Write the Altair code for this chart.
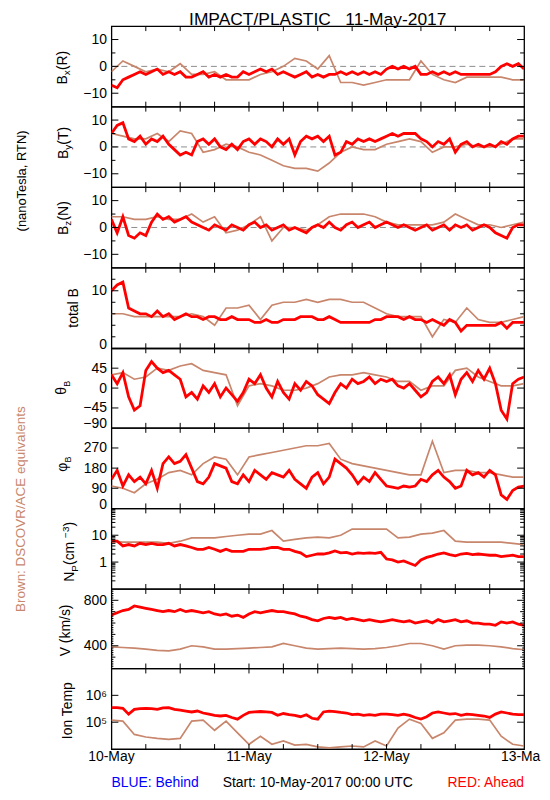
import json
import altair as alt
import pandas as pd

# ---------------- data ----------------
HOURS = list(range(73))            # hourly samples, hours after 10-May-2017 00:00 UTC
HOURS2 = list(range(0, 73, 2))     # two-hourly samples

BX_RED = [-7, -8, -5, -4, -3, -2, -3, -2, -1, -3,
          -2, -3, -2, -4, -4, -3, -2, -4, -3, -4,
          -3, -4, -4, -2, -3, -2, -1, -2, -1, -3,
          -2, -3, -4, -3, -2, -4, -3, -4, -3, -3,
          -2, -3, -2, -3, -2, -3, -2, -3, -1, 0,
          -1, 0, -1, 0, -3, -3, -2, -3, -2, -3,
          -2, -3, -3, -3, -3, -3, -3, -2, 0, 1,
          0, 1, -1]
BX_BROWN = [-2, 2, 0, -2, -1, -2, 1, -3, -3, -2,
            -5, -5, -5, -3, -2, 0, 3, 2, -1, 4,
            -6, -6, -7, -6, -5, -5, -5, 2, -3, -5,
            -6, -4, -4, -4, -4, -5, -5]

BY_RED = [5, 8, 9, 3, 2, 4, 1, 3, 2, 4,
          1, -1, -3, -2, -3, 2, 3, 1, 3, 0,
          -1, 1, -1, 2, 3, 1, 3, 2, 0, 3,
          1, 3, -3, 2, 4, 3, 4, 2, 4, -3,
          -2, 2, 1, 3, 2, 3, 2, 3, 4, 5,
          4, 5, 5, 5, 3, 2, 0, 2, 1, 3,
          -2, 1, 2, 0, 1, 0, 1, 0, 2, 1,
          3, 4, 4]
BY_BROWN = [5, 4, 3, 3, 5, 2, 6, 5, -2, -1,
            1, 0, -2, -3, -5, -7, -8, -8, -9, -6,
            -2, 0, -1, -1, 1, 2, 3, 2, -2, 0,
            0, 1, 0, 0, 1, 3, 3]

BZ_RED = [3, -2, 4, -3, -4, -2, -3, 2, 5, 3,
          4, 2, 3, 4, 2, 1, 0, -1, 1, 0,
          -1, 1, 0, -1, 1, 2, 0, 1, -1, 0,
          1, -1, 0, -1, -2, 0, 1, 0, 2, 0,
          -1, 1, 2, 0, 1, 2, 0, 1, 2, 1,
          0, 1, 0, -1, 0, 1, -1, 0, 1, -1,
          1, 0, 1, -1, 0, 1, 0, -2, -3, -4,
          0, 1, 1]
BZ_BROWN = [4, 4, 3, 3, 4, 3, 3, 5, 2, 4,
            -2, -1, 1, 4, -5, 0, 0, -1, 1, 4,
            5, 5, 5, 4, 2, 1, 1, 1, 1, 2,
            5, 3, 1, 1, 0, 1, 2]

BT_RED = [10, 11, 11.5, 7, 6.5, 6, 6, 5.5, 6.5, 5.5,
          6, 5, 5.5, 6, 5.5, 5.5, 5, 5.5, 5.5, 5,
          5, 5.5, 5, 5, 5, 4.5, 4.5, 5, 4.5, 4.5,
          5, 5, 5, 5.5, 5.5, 5.5, 5, 5, 5.5, 5,
          4.5, 4.5, 4.5, 4.5, 4.5, 4.5, 5, 5, 5.5, 5.5,
          5.5, 5, 5.5, 5, 5, 4.5, 5, 4.5, 4, 5,
          4.5, 3, 4, 4, 4, 4, 4, 4, 4.5, 3.5,
          4.5, 4.5, 4.5]
BT_BROWN = [6, 6, 5.5, 5.5, 5.5, 5.5, 5.5, 6, 5.5, 4,
            7, 7, 7.5, 5, 7.5, 8, 8, 8.5, 8, 8.5,
            8.5, 8, 8, 7, 6, 5.5, 5.5, 5.5, 2, 5,
            4.5, 7, 5, 4.5, 4.5, 5, 5.5]

TH_RED = [30, 10, 35, -20, -50, -40, 40, 60, 45, 35,
          40, 30, 20, -20, -10, -25, 5, -10, 10, -20,
          0, -15, -30, -10, 20, 10, 30, 0, -20, 15,
          -10, -25, 10, -5, 15, 5, -15, -25, -35, -10,
          10, 0, 20, 10, 15, 25, 10, 20, 15, 20,
          5, 0, 10, -5, -20, -10, 15, 25, 10, 30,
          -15, 20, 35, 15, 40, 20, 45, 10, -50, -70,
          10, 20, 25]
TH_BROWN = [30, 35, 20, 25, 45, 40, 50, 55, 40, 35,
            30, -40, 5, 10, 5, -5, -5, 0, 10, 25,
            30, 30, 35, 30, 25, 15, 15, -5, 5, 5,
            40, 45, 25, 15, 5, 5, 10]

PH_RED = [130, 170, 100, 150, 120, 140, 110, 170, 90, 200,
          230, 200, 210, 240, 180, 120, 110, 140, 200, 190,
          180, 120, 110, 150, 120, 170, 150, 130, 160, 150,
          140, 170, 130, 110, 90, 140, 160, 110, 140, 220,
          200, 180, 150, 110, 140, 120, 160, 130, 100, 95,
          90, 100, 95, 100, 130, 120, 150, 170, 140, 120,
          90, 100, 170, 150, 160, 140, 170, 150, 60, 40,
          80, 95, 100]
PH_BROWN = [100, 90, 70, 110, 130, 160, 170, 150, 200, 230,
            220, 150, 230, 240, 250, 260, 270, 280, 280, 290,
            220, 200, 190, 180, 170, 160, 150, 150, 300, 160,
            170, 170, 160, 160, 150, 140, 140]

NP_RED = [6, 6, 4, 4.5, 4, 5, 4.5, 5, 4.5, 4.5,
          5, 4, 4.5, 4, 3.5, 3, 3, 3.5, 3, 2.5,
          3, 2.5, 2.5, 2.5, 3, 3, 3, 3.2, 3.5, 3.5,
          3, 3, 2.5, 2.2, 1.6, 1.8, 2, 2, 2.2, 2.6,
          2.2, 2.3, 2, 2.2, 2.1, 2.2, 2.1, 2.3, 1.3, 1.2,
          1.0, 1.1, 0.9, 0.75, 1.2, 1.5, 1.7, 2, 2.2, 1.9,
          1.7, 2, 2.1, 1.9, 2, 1.9, 1.8, 1.8, 1.6, 1.7,
          1.8, 1.6, 1.6]
NP_BROWN = [6, 5.5, 5.5, 5.5, 5.5, 5, 6, 8, 8, 8,
            9, 10, 11, 11, 15, 6, 7, 8, 8.5, 8,
            10, 17, 17, 17, 17, 8, 8.5, 11, 12, 15,
            6, 5.5, 5.5, 5.5, 5.5, 5, 4.5]

V_RED = [670, 690, 710, 720, 750, 740, 730, 720, 710, 700,
         710, 700, 720, 700, 710, 700, 690, 700, 680, 670,
         680, 660, 670, 650, 680, 700, 690, 700, 710, 700,
         700, 690, 680, 660, 650, 630, 620, 640, 650, 640,
         650, 630, 640, 630, 620, 630, 620, 610, 620, 630,
         620, 610, 620, 600, 610, 620, 600, 630, 610, 620,
         630, 610, 620, 600, 600, 590, 590, 580, 610, 600,
         610, 590, 580]
V_BROWN = [390, 385, 380, 370, 360, 355, 370, 400, 390, 370,
           370, 375, 380, 385, 390, 420, 400, 380, 370, 375,
           380, 375, 370, 375, 385, 400, 420, 420, 400, 370,
           400, 405, 405, 400, 390, 375, 365]

T_RED = [3.5e5, 3.5e5, 3.3e5, 2e5, 3e5, 3.2e5, 3.3e5, 3.2e5, 3e5, 3.4e5,
         3.5e5, 3e5, 2.8e5, 2.6e5, 2.4e5, 2.6e5, 2.2e5, 2e5, 1.8e5, 1.7e5,
         1.8e5, 1.5e5, 1.3e5, 1.8e5, 2.3e5, 2.4e5, 2.5e5, 2.4e5, 2.3e5, 1.8e5,
         2.1e5, 1.9e5, 1.8e5, 1.6e5, 1.9e5, 1.4e5, 1.3e5, 2.4e5, 2.6e5, 2.5e5,
         2.3e5, 2.2e5, 1.9e5, 2e5, 1.8e5, 1.9e5, 1.8e5, 2e5, 2e5, 1.9e5,
         1.8e5, 2e5, 1.8e5, 1.5e5, 1.3e5, 1.6e5, 2.2e5, 2.4e5, 2.2e5, 2e5,
         2.1e5, 1.8e5, 2e5, 1.9e5, 1.8e5, 1.7e5, 1.5e5, 2e5, 2.4e5, 2.2e5,
         2e5, 1.9e5, 1.9e5]
T_BROWN = [1.2e5, 1.1e5, 3.5e4, 2.8e4, 2.5e4, 2.3e4, 2.5e4, 1.1e5, 1.2e5, 5e4,
           1.1e5, 4e4, 1.5e4, 3e4, 1.5e4, 2e4, 1.4e4, 1.5e4, 1.2e4, 1.1e4,
           1.2e4, 1.3e4, 1.2e4, 2e4, 1.3e4, 6e4, 1.3e5, 9e4, 2.5e4, 4e4,
           1.2e5, 1.3e5, 1.3e5, 1.2e5, 3e4, 1.5e4, 1.3e4]

DAY_TICKS = [0, 24, 48, 72]
DAY_LABELS = ["10-May", "11-May", "12-May", "13-May"]
HOUR_TICKS = list(range(6, 72, 6))
TEMP_LABELS = ["10\u2075", "10\u2076"]

TITLE = "IMPACT/PLASTIC\u00a0\u00a0\u00a011-May-2017"
START_TEXT = "Start: 10-May-2017 00:00 UTC"

# ---------------- style ----------------
RED = "#ff0000"
BROWN = "#c8866c"
BLUE = "#0000ff"
FONT = "Liberation Sans"
W = 415

xscale = alt.Scale(domain=[0, 72], nice=False, zero=False)


def text_layer(text, x, y, size=14, color="black", align="left",
               baseline="middle", angle=270):
    return alt.Chart(pd.DataFrame({"t": [text]})).mark_text(
        font=FONT, fontSize=size, color=color, align=align,
        baseline=baseline, angle=angle
    ).encode(text="t:N", x=alt.value(x), y=alt.value(y))


def rot_title(pieces, x0, ybot):
    out, cur = [], ybot
    for txt, size, dx, adv in pieces:
        out.append(text_layer(txt, x0 + dx, cur, size=size))
        cur -= adv
    return out


def panel(height, red, brown, ydomain, ytype, major, minor, labels,
          title_layers, label_expr=None, bottom_label=None, zero=False,
          bottom=False, micro=None, extra=()):
    yscale = alt.Scale(domain=ydomain, type=ytype, nice=False, zero=False)
    yargs = dict(values=labels, ticks=False, tickSize=0, domain=False,
                 grid=False, labelFont=FONT, labelFontSize=14,
                 labelPadding=5, labelColor="black", title=None)
    if label_expr:
        yargs["labelExpr"] = label_expr
    if bottom_label is not None:
        yargs["labelOffset"] = {"condition": {"test": f"datum.value == {bottom_label}",
                                              "value": -4}, "value": 0}
    yaxis = alt.Axis(**yargs)

    def X():
        return alt.X("h:Q", scale=xscale, axis=None)

    def Y():
        return alt.Y("v:Q", scale=yscale, axis=yaxis)

    layers = []
    if zero:
        layers.append(alt.Chart(pd.DataFrame({"v": [0]})).mark_rule(
            color="#8c8c8c", strokeDash=[6, 4], strokeWidth=1
        ).encode(y=Y(), x=alt.value(0), x2=alt.value(W)))
    layers.append(alt.Chart(pd.DataFrame({"h": HOURS2, "v": brown})).mark_line(
        color=BROWN, strokeWidth=1.7, clip=True).encode(x=X(), y=Y()))
    layers.append(alt.Chart(pd.DataFrame({"h": HOURS, "v": red})).mark_line(
        color=RED, strokeWidth=2.8, clip=True).encode(x=X(), y=Y()))
    # inward ticks
    for vals, ln in ((major, 7), (minor, 4), (micro, 2)):
        if not vals:
            continue
        df = pd.DataFrame({"v": vals})
        layers.append(alt.Chart(df).mark_rule(color="black", strokeWidth=1).encode(
            y=Y(), x=alt.value(0), x2=alt.value(ln)))
        layers.append(alt.Chart(df).mark_rule(color="black", strokeWidth=1).encode(
            y=Y(), x=alt.value(W), x2=alt.value(W - ln)))
    dfx = pd.DataFrame({"h": HOUR_TICKS})
    layers.append(alt.Chart(dfx).mark_rule(color="black", strokeWidth=1).encode(
        x=X(), y=alt.value(0), y2=alt.value(5)))
    layers.append(alt.Chart(dfx).mark_rule(color="black", strokeWidth=1).encode(
        x=X(), y=alt.value(height), y2=alt.value(height - 5)))
    if bottom:
        # day labels under the bottom panel; the last one runs off the page edge
        layers.append(alt.Chart(pd.DataFrame({"h": DAY_TICKS[:3], "t": DAY_LABELS[:3]}))
                      .mark_text(font=FONT, fontSize=14, color="black", align="center",
                                 baseline="top")
                      .encode(x=X(), y=alt.value(height + 1.5), text="t:N"))
        layers.append(alt.Chart(pd.DataFrame({"h": DAY_TICKS[3:], "t": DAY_LABELS[3:]}))
                      .mark_text(font=FONT, fontSize=14, color="black", align="left",
                                 baseline="top", dx=-23.3, limit=43, ellipsis="\u200b")
                      .encode(x=X(), y=alt.value(height + 1.5), text="t:N"))
    layers.extend(title_layers)
    layers.extend(extra)
    return alt.layer(*layers).properties(width=W, height=height)


B_MAJOR, B_MINOR = [-10, 0, 10], [-5, 5]

p_bx = panel(81, BX_RED, BX_BROWN, [-15, 15], "linear", B_MAJOR, B_MINOR, B_MAJOR,
             rot_title([("B", 14, 0, 9.3), ("x", 10, 4.5, 5.2), ("(R)", 14, 0, 19.4)], -49, 58.7),
             zero=True,
             extra=[text_layer(TITLE, W / 2, -15.3, size=17.5, align="center",
                               baseline="top", angle=0),
                    alt.Chart(pd.DataFrame({"t": [0]})).mark_rule(opacity=0, strokeWidth=1).encode(
                        x=alt.value(-102.8), y=alt.value(0), y2=alt.value(5))])
p_by = panel(81, BY_RED, BY_BROWN, [-15, 15], "linear", B_MAJOR, B_MINOR, B_MAJOR,
             rot_title([("B", 14, 0, 9.3), ("y", 10, 4.5, 5.2), ("(T)", 14, 0, 17.9)], -48, 52.7),
             zero=True,
             extra=[text_layer("(nanoTesla, RTN)", -89.6, 74.7, size=13, align="center")])
p_bz = panel(81, BZ_RED, BZ_BROWN, [-15, 15], "linear", B_MAJOR, B_MINOR, B_MAJOR,
             rot_title([("B", 14, 0, 9.3), ("z", 10, 4.5, 5.2), ("(N)", 14, 0, 19.4)], -48, 48),
             zero=True)
p_bt = panel(81, BT_RED, BT_BROWN, [0, 14], "linear", [10], [2, 4, 6, 8, 12], [0, 10],
             [text_layer("total B", -37.3, 40.4, align="center")], bottom_label=0)
p_th = panel(80, TH_RED, TH_BROWN, [-90, 90], "linear", [-45, 0, 45], [], [-90, -45, 0, 45],
             rot_title([("\u03b8", 14, 0, 8.0), ("B", 9, 5, 6.5)], -49.3, 46.6),
             bottom_label=-90)
p_ph = panel(81, PH_RED, PH_BROWN, [0, 360], "linear", [90, 180, 270], [], [0, 90, 180, 270],
             rot_title([("\u03c6", 14, 0, 9.3), ("B", 9, 5, 6.5)], -48.3, 44.2),
             bottom_label=0)
p_np = panel(81, NP_RED, NP_BROWN, [0.1, 100], "log", [1, 10],
             [0.2, 0.3, 0.4, 0.5, 0.6, 0.7, 0.8, 0.9, 2, 3, 4, 5, 6, 7, 8, 9,
              20, 30, 40, 50, 60, 70, 80, 90], [1, 10],
             rot_title([("N", 14, 0, 10.1), ("P", 10, 4.5, 6.7), ("\u00a0(cm", 14, 0, 27.2),
                        ("\u22123", 10, -4.5, 11.4), (")", 14, 0, 4.7)], -41.3, 73.7),
             label_expr="format(datum.value, '~g')",
             extra=[text_layer("Brown: DSCOVR/ACE equivalents", -91.3, 0.7, size=13.5,
                               color=BROWN, align="center")])
p_v = panel(80, V_RED, V_BROWN, [200, 900], "linear", [400, 800], [300, 500, 600, 700],
            [400, 800], [text_layer("V (km/s)", -45.3, 41.7, align="center")],
            micro=[220, 240, 260, 280, 320, 340, 360, 380, 420, 440, 460, 480, 520, 540,
                   560, 580, 620, 640, 660, 680, 720, 740, 760, 780, 820, 840, 860, 880])
p_t = panel(81, T_RED, T_BROWN, [1e4, 1e7], "log", [1e5, 1e6], [], [1e5, 1e6],
            [text_layer("Ion Temp", -43.8, 42.4, align="center")],
            label_expr=json.dumps(TEMP_LABELS) + "[datum.value >= 1e6 ? 1 : 0]",
            bottom=True,
            extra=[text_layer("BLUE: Behind", 0, 118.7, color=BLUE, align="left",
                              baseline="alphabetic", angle=0),
                   text_layer(START_TEXT, W / 2, 118.7, align="center",
                              baseline="alphabetic", angle=0),
                   text_layer("RED: Ahead", W, 118.7, color=RED, align="right",
                              baseline="alphabetic", angle=0)])

chart = alt.vconcat(p_bx, p_by, p_bz, p_bt, p_th, p_ph, p_np, p_v, p_t,
                    spacing=0, bounds="flush").properties(
    padding={"left": 0, "top": 0, "right": 0, "bottom": 0},
    background="white"
).configure_view(stroke="black", strokeWidth=1.3)

chart.save("out.html", embed_options={"renderer": "svg", "actions": False})
